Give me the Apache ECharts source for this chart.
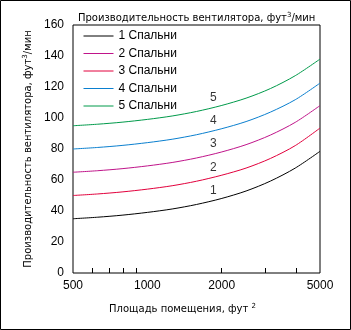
<!DOCTYPE html>
<html>
<head>
<meta charset="utf-8">
<script src="https://cdn.jsdelivr.net/npm/echarts@6/dist/echarts.min.js"></script>
<style>
  html, body { margin: 0; padding: 0; background: #fff; }
  #chart { width: 351px; height: 330px; }
</style>
</head>
<body>
<div id="chart"></div>
<script>
// Room area, ft^2 (log scale)
const area = [500, 630, 790, 1000, 1260, 1580, 1990, 2510, 3150, 3970, 5000];

// Fan capacity, ft^3/min, by number of bedrooms
const bed1 = [35, 36, 37.3, 39.1, 41.3, 44.2, 48, 52.9, 59.3, 67.7, 78.5];
const bed2 = [50, 51, 52.3, 54.1, 56.3, 59.2, 63, 67.7, 73.9, 82.2, 93.5];
const bed3 = [65, 66, 67.3, 69.1, 71.3, 74.2, 78, 82.8, 89, 97.2, 108];
const bed4 = [80, 81, 82.3, 84.1, 86.3, 89.2, 93, 97.7, 103.8, 111.8, 122.5];
const bed5 = [95, 96, 97.3, 99.1, 101.3, 104.2, 108, 112.8, 119, 127.3, 138];

const seriesNames = ['1 Спальни', '2 Спальни', '3 Спальни', '4 Спальни', '5 Спальни'];
const curveTags = ['1', '2', '3', '4', '5'];
const tagArea = 1850;

const xLabelValues = [500, 1000, 2000, 5000];
const xTickValues = [600, 700, 800, 900, 2000, 3000, 4000];

const colors = ['#000000', '#e2003c', '#c0148a', '#0a7fcf', '#009a4a'];
// legend swatches for rows 2 and 3
const legendColors = ['#000000', '#c0148a', '#e2003c', '#0a7fcf', '#009a4a'];

const FONT = 'Liberation Sans';
const TITLE_FONT = 'DejaVu Sans';
const allData = [bed1, bed2, bed3, bed4, bed5];

function interpAt(xs, ys, x) {
  // value on the curve at x (log-x linear)
  for (let i = 0; i < xs.length - 1; i++) {
    if (x >= xs[i] && x <= xs[i + 1]) {
      const t = (Math.log(x) - Math.log(xs[i])) / (Math.log(xs[i + 1]) - Math.log(xs[i]));
      return ys[i] + t * (ys[i + 1] - ys[i]);
    }
  }
  return ys[ys.length - 1];
}

const series = allData.map((ys, i) => ({
  name: seriesNames[i],
  type: 'line',
  smooth: 0.3,
  symbol: 'none',
  data: area.map((x, j) => [x, ys[j]]),
  lineStyle: { color: colors[i], width: 1 },
  itemStyle: { color: colors[i] },
  z: 3
}));

// curve numbers written just above each curve
series.push({
  type: 'scatter',
  symbolSize: 0,
  silent: true,
  data: allData.map((ys, i) => ({
    value: [tagArea, interpAt(area, ys, tagArea)],
    label: { formatter: curveTags[i] }
  })),
  label: {
    show: true,
    position: 'top',
    distance: 4,
    color: '#000',
    fontFamily: FONT,
    fontSize: 12
  }
});

const txt = { fontFamily: TITLE_FONT, fontSize: 10, fontWeight: 'normal', color: '#000' };
const sup = { fontFamily: TITLE_FONT, fontSize: 7, fontWeight: 'normal', color: '#000', verticalAlign: 'bottom', padding: [0, 0, 6, 0] };

const chart = echarts.init(document.getElementById('chart'), null, { renderer: 'canvas' });
chart.setOption({
  animation: false,
  backgroundColor: '#fff',
  title: {
    text: '{t|Производительность вентилятора, фут}{s|3}{t|/мин}',
    left: 73,
    top: 7,
    textStyle: { fontWeight: 'normal', rich: { t: txt, s: sup } }
  },
  legend: {
    orient: 'vertical',
    left: 78,
    top: 25,
    itemWidth: 30,
    itemHeight: 14,
    itemGap: 5.5,
    textStyle: { fontFamily: FONT, fontSize: 12, color: '#000' },
    data: seriesNames.map((n, i) => ({
      name: n,
      itemStyle: { opacity: 0 },
      lineStyle: { color: legendColors[i], width: 1 }
    }))
  },
  grid: {
    left: 73, top: 25, right: 31, bottom: 57,
    show: true,
    borderColor: '#000',
    borderWidth: 1,
    backgroundColor: 'transparent'
  },
  xAxis: {
    type: 'log',
    logBase: 10,
    min: 500,
    max: 5000,
    name: '{t|Площадь помещения, фут }{s|2}',
    nameLocation: 'middle',
    nameGap: 30,
    nameTextStyle: { padding: [0, 28, 0, 0], rich: { t: txt, s: sup } },
    axisLine: { show: false },
    splitLine: { show: false },
    minorTick: { show: false },
    axisTick: { show: true, inside: true, length: 5, lineStyle: { color: '#000' }, customValues: xTickValues },
    axisLabel: { margin: 7, fontFamily: FONT, fontSize: 12, color: '#000', customValues: xLabelValues, formatter: v => String(v) }
  },
  yAxis: {
    type: 'value',
    min: 0,
    max: 160,
    interval: 20,
    name: '{t|Производительность вентилятора, фут}{s|3}{t|/мин}',
    nameLocation: 'middle',
    nameGap: 29,
    nameRotate: 90,
    nameTextStyle: { rich: { t: txt, s: sup } },
    axisLine: { show: false },
    axisTick: { show: false },
    splitLine: { show: false },
    axisLabel: { margin: 9, fontFamily: FONT, fontSize: 12, color: '#000' }
  },
  graphic: [{
    type: 'rect',
    shape: { x: 0.5, y: 0.5, width: 350, height: 329 },
    style: { fill: 'none', stroke: '#000', lineWidth: 1 },
    silent: true,
    z: 10
  }],
  series: series
});
</script>
</body>
</html>
